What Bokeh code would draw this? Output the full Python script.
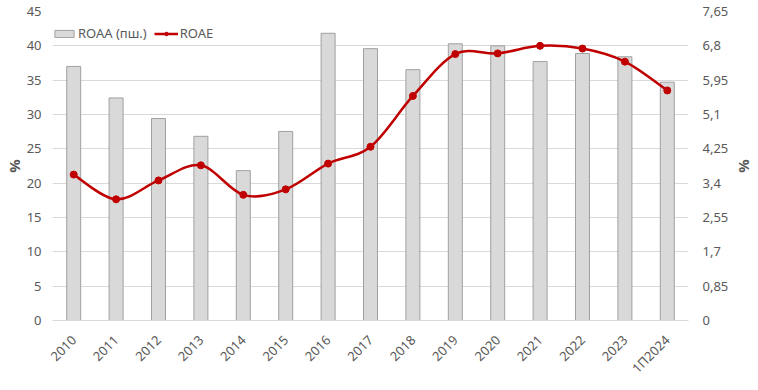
from bokeh.plotting import figure
from bokeh.models import (Range1d, LinearAxis, FixedTicker, Legend, LegendItem,
                          ColumnDataSource, CustomJSTickFormatter)
from bokeh.embed import file_html
from bokeh.resources import INLINE

categories = ["2010", "2011", "2012", "2013", "2014", "2015", "2016", "2017",
              "2018", "2019", "2020", "2021", "2022", "2023", "1П2024"]
roaa = [6.29, 5.51, 5.00, 4.56, 3.71, 4.68, 7.11, 6.73, 6.21, 6.85, 6.80, 6.41, 6.61, 6.53, 5.90]
roae = [21.25, 17.65, 20.4, 22.6, 18.3, 19.1, 22.85, 25.3, 32.7, 38.8, 38.9, 40.0, 39.6, 37.7, 33.5]
left_ticks = [0, 5, 10, 15, 20, 25, 30, 35, 40, 45]
right_ticks = [0, 0.85, 1.7, 2.55, 3.4, 4.25, 5.1, 5.95, 6.8, 7.65]

TXT = "#595959"
FONT = "Noto Sans"

xs = [i + 0.5 for i in range(len(categories))]

p = figure(width=758, height=390, output_backend="svg", toolbar_location=None,
           x_range=Range1d(0, len(categories)), y_range=Range1d(0, 45),
           min_border_left=51, min_border_right=69, min_border_top=11, min_border_bottom=70)
p.outline_line_color = None
p.background_fill_color = "white"
p.extra_y_ranges = {"right": Range1d(0, 7.65)}

# bars (right scale)
src_b = ColumnDataSource(dict(x=xs, y=roaa))
bars = p.vbar(x="x", top="y", width=0.33, source=src_b, y_range_name="right",
              fill_color="#d9d9d9", line_color="#a0a0a0", line_width=1)

# smooth line (Catmull-Rom style bezier through the data points)
n = len(xs)
pts = list(zip(xs, roae))
x0s, y0s, x1s, y1s, cx0, cy0, cx1, cy1 = [], [], [], [], [], [], [], []
for i in range(n - 1):
    p0 = pts[i - 1] if i > 0 else pts[i]
    p1 = pts[i]
    p2 = pts[i + 1]
    p3 = pts[i + 2] if i + 2 < n else pts[i + 1]
    x0s.append(p1[0]); y0s.append(p1[1])
    x1s.append(p2[0]); y1s.append(p2[1])
    cx0.append(p1[0] + (p2[0] - p0[0]) / 6); cy0.append(p1[1] + (p2[1] - p0[1]) / 6)
    cx1.append(p2[0] - (p3[0] - p1[0]) / 6); cy1.append(p2[1] - (p3[1] - p1[1]) / 6)
src_c = ColumnDataSource(dict(x0=x0s, y0=y0s, x1=x1s, y1=y1s, cx0=cx0, cy0=cy0, cx1=cx1, cy1=cy1))
curve = p.bezier(x0="x0", y0="y0", x1="x1", y1="y1", cx0="cx0", cy0="cy0", cx1="cx1", cy1="cy1",
                 source=src_c, line_color="#C00000", line_width=2.5)
src_l = ColumnDataSource(dict(x=xs, y=roae))
dots = p.scatter(x="x", y="y", source=src_l, size=7, marker="circle",
                 fill_color="#C00000", line_color="#C00000")

def no_ticks(ax):
    ax.major_tick_line_color = None
    ax.minor_tick_line_color = None
    ax.major_tick_out = 0
    ax.major_tick_in = 0
    ax.minor_tick_out = 0
    ax.minor_tick_in = 0

# axes
p.xaxis.ticker = FixedTicker(ticks=xs)
p.xaxis.major_label_overrides = {x: c for x, c in zip(xs, categories)}
p.xaxis.major_label_orientation = 0.785398
p.xaxis.axis_line_color = "#d9d9d9"
no_ticks(p.xaxis[0])
p.xaxis.major_label_text_color = TXT
p.xaxis.major_label_text_font = FONT
p.xaxis.major_label_text_font_size = "13px"
p.xaxis.major_label_standoff = 17

p.yaxis.ticker = FixedTicker(ticks=left_ticks)
p.yaxis.axis_line_color = None
no_ticks(p.yaxis[0])
p.yaxis.major_label_text_color = TXT
p.yaxis.major_label_text_font = FONT
p.yaxis.major_label_text_font_size = "13px"
p.yaxis.major_label_standoff = 11
p.yaxis.axis_label = "%"
p.yaxis.axis_label_text_color = TXT
p.yaxis.axis_label_text_font = FONT
p.yaxis.axis_label_text_font_style = "bold"
p.yaxis.axis_label_text_font_size = "15px"
p.yaxis.axis_label_standoff = 0

ra = LinearAxis(y_range_name="right", ticker=FixedTicker(ticks=right_ticks),
                formatter=CustomJSTickFormatter(code="return (Math.round(tick*100)/100).toString().replace('.', ',');"))
ra.axis_line_color = None
no_ticks(ra)
ra.major_label_text_color = TXT
ra.major_label_text_font = FONT
ra.major_label_text_font_size = "13px"
ra.major_label_standoff = 14
ra.axis_label = "%"
ra.axis_label_text_color = TXT
ra.axis_label_text_font = FONT
ra.axis_label_text_font_style = "bold"
ra.axis_label_text_font_size = "15px"
ra.axis_label_standoff = 4
p.add_layout(ra, "right")

p.xgrid.grid_line_color = None
p.ygrid.grid_line_color = "#d9d9d9"
p.ygrid.grid_line_width = 1

legend = Legend(items=[LegendItem(label="ROAA (пш.)", renderers=[bars]),
                       LegendItem(label="ROAE", renderers=[curve, dots])],
                orientation="horizontal", location=(0, 278), margin=0, padding=6,
                border_line_color=None, background_fill_alpha=0,
                glyph_width=24, glyph_height=9, label_standoff=2, spacing=7,
                label_text_color=TXT, label_text_font=FONT, label_text_font_size="13px")
p.add_layout(legend)

open("out.html", "w").write(file_html(p, INLINE))
